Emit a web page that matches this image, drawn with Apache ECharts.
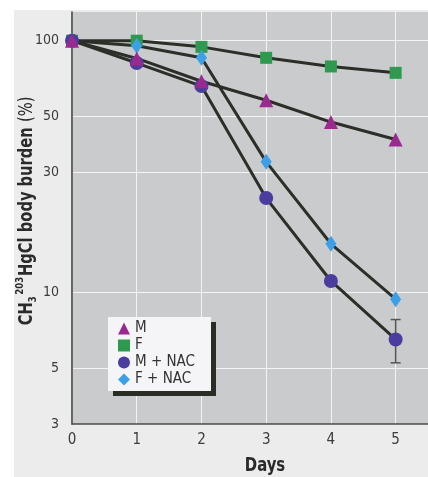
<!DOCTYPE html>
<html><head><meta charset="utf-8">
<script src="https://cdn.jsdelivr.net/npm/echarts@6/dist/echarts.min.js"></script>
<style>html,body{margin:0;padding:0;background:#fff}#c{width:428px;height:477px}</style>
</head><body><div id="c"></div>
<script>
const days = [0, 1, 2, 3, 4, 5];
const xTicks = [0, 1, 2, 3, 4, 5];
const yTicks = [3, 5, 10, 30, 50, 100];
const seriesNames = ['M', 'F', 'M + NAC', 'F + NAC'];
const valM = [100, 85, 69, 58, 47.5, 40.5];
const valF = [100, 100, 94.5, 85.5, 79, 74.5];
const valMNAC = [100, 81.5, 66, 23.7, 11.1, 6.5];
const valFNAC = [100, 95.5, 85.5, 33, 15.6, 9.4];
const errDay = [5];
const errLow = [5.25];
const errHigh = [7.8];

const FONT = '"Liberation Sans Narrow","DejaVu Sans Condensed","Roboto Condensed","Liberation Sans",sans-serif';
const LINE = '#2c2f28';
const colors = ['#9b2a90', '#2f9a4f', '#4a3d9e', '#3d9fe6'];
const symbols = ['triangle', 'rect', 'circle', 'diamond'];
const sizes = [14, 12, 14, [11, 16]];
const vals = [valM, valF, valMNAC, valFNAC];

const pairs = v => days.map((d, i) => [d, v[i]]);

const series = [];
vals.forEach((v, i) => {
  series.push({
    type: 'line', name: seriesNames[i] + '_line', data: pairs(v),
    showSymbol: false, symbol: 'none', z: 2, silent: true,
    lineStyle: { color: LINE, width: 3 }
  });
});
series.push({
  type: 'custom', name: 'err', z: 3, silent: true,
  data: errDay.map((d, i) => [d, errLow[i], errHigh[i]]),
  renderItem: function (params, api) {
    const x = api.value(0);
    const lo = api.coord([x, api.value(1)]);
    const hi = api.coord([x, api.value(2)]);
    const st = { stroke: '#555', lineWidth: 1.5 };
    return { type: 'group', children: [
      { type: 'line', shape: { x1: lo[0], y1: lo[1], x2: hi[0], y2: hi[1] }, style: st },
      { type: 'line', shape: { x1: lo[0] - 5, y1: lo[1], x2: lo[0] + 5, y2: lo[1] }, style: st },
      { type: 'line', shape: { x1: hi[0] - 5, y1: hi[1], x2: hi[0] + 5, y2: hi[1] }, style: st }
    ]};
  }
});
[1, 3, 2, 0].forEach((i, k) => {
  series.push({
    type: 'scatter', name: seriesNames[i], data: pairs(vals[i]), z: 5 + k,
    symbol: symbols[i], symbolSize: sizes[i],
    itemStyle: { color: colors[i], opacity: 1 }
  });
});

const chart = echarts.init(document.getElementById('c'), null, { renderer: 'canvas' });
chart.setOption({
  animation: false,
  backgroundColor: '#ffffff',
  textStyle: { fontFamily: FONT },
  grid: { left: 72, top: 12, right: 0, bottom: 53, show: false },
  graphic: [
    { type: 'rect', z: -10, shape: { x: 14, y: 10, width: 414, height: 467 }, style: { fill: '#ececec' } },
    { type: 'rect', z: -9, shape: { x: 72, y: 12, width: 356, height: 412 }, style: { fill: '#c9cbcd' } },
    { type: 'group', x: 27, y: 211, rotation: Math.PI / 2, scaleX: 0.86, children: [
      { type: 'text', style: {
        x: 0, y: 0, align: 'center', verticalAlign: 'middle',
        text: '{b|CH}{s|3}{p|203}{b|HgCl body burden }{n|(%)}',
        rich: {
          b: { fontFamily: FONT, fontWeight: 'bold', fontSize: 19, fill: '#2a2a2a', lineHeight: 24 },
          n: { fontFamily: FONT, fontWeight: 'normal', fontSize: 19, fill: '#2a2a2a', lineHeight: 24 },
          s: { fontFamily: FONT, fontWeight: 'bold', fontSize: 11, fill: '#2a2a2a', verticalAlign: 'bottom', lineHeight: 12, padding: [0, 2, 0, 0] },
          p: { fontFamily: FONT, fontWeight: 'bold', fontSize: 11, fill: '#2a2a2a', verticalAlign: 'top', lineHeight: 12, padding: [0, 1, 0, 0] }
        }
      }}
    ]},
    { type: 'text', x: 265, y: 466, scaleX: 0.87, style: { text: 'Days', align: 'center', verticalAlign: 'middle', fontFamily: FONT, fontWeight: 'bold', fontSize: 19, fill: '#2a2a2a' } }
  ],
  legend: {
    orient: 'vertical', left: 108, top: 317,
    backgroundColor: '#f5f5f7', borderWidth: 0,
    padding: [4, 16, 4, 10], itemGap: 2, itemWidth: 12, itemHeight: 12,
    shadowColor: '#2b2c26', shadowOffsetX: 5, shadowOffsetY: 5, shadowBlur: 0,
    textStyle: { fontFamily: FONT, fontSize: 15, color: '#333' },
    data: seriesNames.map((n, i) => ({ name: n, icon: symbols[i], itemStyle: { color: colors[i] } }))
  },
  xAxis: {
    type: 'value', min: 0, max: 5.5, interval: 1,
    axisLine: { show: true, lineStyle: { color: '#4a4a4a', width: 1.5 } },
    axisTick: { show: false },
    axisLabel: { showMaxLabel: false, margin: 9, fontFamily: FONT, fontSize: 15, color: '#3c3c3c',
      formatter: v => xTicks.indexOf(v) >= 0 ? String(v) : '' },
    splitLine: { show: true, lineStyle: { color: '#f4f4f4', width: 1 } }
  },
  yAxis: {
    type: 'log', logBase: 10, min: 3, max: 130,
    axisLine: { show: true, lineStyle: { color: '#3a3a3a', width: 1.5 } },
    axisTick: { show: false, customValues: yTicks },
    axisLabel: { customValues: yTicks, margin: 13, fontFamily: FONT, fontSize: 14, color: '#3c3c3c' },
    splitLine: { show: true, lineStyle: { color: '#f4f4f4', width: 1 } }
  },
  series: series
});
</script></body></html>
